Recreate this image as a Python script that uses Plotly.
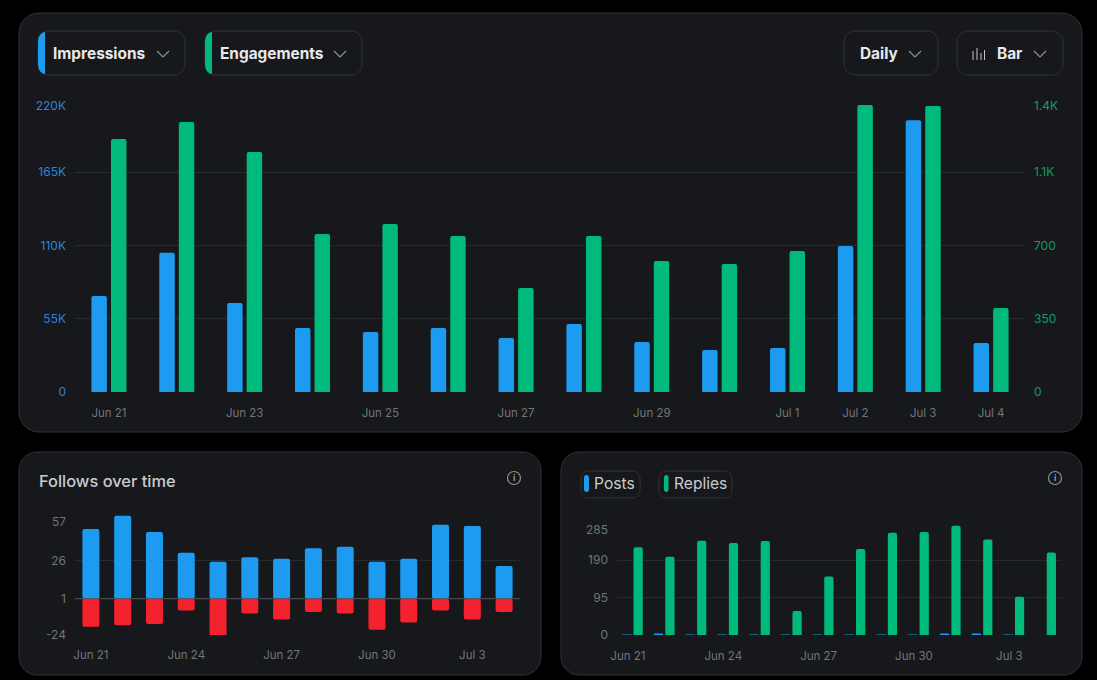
import plotly.graph_objects as go

W, H = 1097, 680

# ---------- data ----------
days = ["Jun 21", "Jun 22", "Jun 23", "Jun 24", "Jun 25", "Jun 26", "Jun 27",
        "Jun 28", "Jun 29", "Jun 30", "Jul 1", "Jul 2", "Jul 3", "Jul 4"]
impressions = [72000, 104500, 66800, 48000, 45000, 48000, 40500,
               51000, 37500, 31500, 33000, 109600, 204000, 36800]
engagements = [1209, 1290, 1147, 755, 803, 745, 497,
               745, 626, 612, 674, 1371, 1367, 401]
follows = [47, 56, 45, 31, 25, 28, 27, 34, 35, 25, 27, 50, 49, 22]
unfollows = [-19, -18, -17, -8, -25, -10, -14, -9, -10, -21, -16, -8, -14, -9]
posts = [1, 3, 1, 1, 1, 1, 1, 1, 1, 1, 3, 3, 1, 0]
replies = [222, 198, 239, 233, 238, 61, 148, 218, 259, 261, 277, 242, 97, 209]

main_ticks = ["Jun 21", "Jun 23", "Jun 25", "Jun 27", "Jun 29", "Jul 1", "Jul 2", "Jul 3", "Jul 4"]
small_ticks = ["Jun 21", "Jun 24", "Jun 27", "Jun 30", "Jul 3"]

imp_grid = [0, 55000, 110000, 165000, 220000]
imp_label_at = [0, 55000, 110000, 165000, 215000]
imp_labels = ["0", "55K", "110K", "165K", "220K"]
eng_label_at = [0, 350, 700, 1050, 1369]
eng_labels = ["0", "350", "700", "1.1K", "1.4K"]
fol_base = 0.5
fol_grid = [-24, fol_base, 26, 57]
fol_label_at = [-24, fol_base, 26, 52.5]
fol_labels = ["-24", "1", "26", "57"]
rep_grid = [0, 95, 190, 285]
rep_label_at = [0, 95, 190, 267]
rep_labels = ["0", "95", "190", "285"]

# ---------- styles ----------
BG = "#000000"
CARD = "#16181c"
BORDER = "#2f3336"
GRID = "#272a2e"
BLUE = "#1d9bf0"
GREEN = "#00ba7c"
RED = "#f4212e"
MUTED = "#71767b"
FONT = "Inter"


def px(x):
    return x / W


def py(y):
    return 1 - y / H


def rrect(x0, y0, x1, y1, r, fill, line, layer="below", lw=1):
    k = r * 0.45
    p = (f"M{px(x0+r)},{py(y0)} L{px(x1-r)},{py(y0)} "
         f"C{px(x1-k)},{py(y0)} {px(x1)},{py(y0+k)} {px(x1)},{py(y0+r)} "
         f"L{px(x1)},{py(y1-r)} "
         f"C{px(x1)},{py(y1-k)} {px(x1-k)},{py(y1)} {px(x1-r)},{py(y1)} "
         f"L{px(x0+r)},{py(y1)} "
         f"C{px(x0+k)},{py(y1)} {px(x0)},{py(y1-k)} {px(x0)},{py(y1-r)} "
         f"L{px(x0)},{py(y0+r)} "
         f"C{px(x0)},{py(y0+k)} {px(x0+k)},{py(y0)} {px(x0+r)},{py(y0)} Z")
    return dict(type="path", xref="paper", yref="paper", path=p, fillcolor=fill,
                line=dict(color=line, width=lw), layer=layer)


def chevron(cx, cy, color="#8b9096"):
    p = f"M{px(cx-6)},{py(cy-3)} L{px(cx)},{py(cy+3)} L{px(cx+6)},{py(cy-3)}"
    return dict(type="path", xref="paper", yref="paper", path=p,
                line=dict(color=color, width=1.2), layer="above")


def seg(x0, y0, x1, y1, color, width=1):
    return dict(type="line", xref="paper", yref="paper", x0=px(x0), x1=px(x1), y0=py(y0), y1=py(y1),
                line=dict(color=color, width=width), layer="above")


def accent(x0, x1, y0, y1, color):
    p = (f"M{px(x1)},{py(y0)} C{px(x0+1)},{py(y0+1)} {px(x0)},{py(y0+6)} {px(x0)},{py(y0+12)} "
         f"L{px(x0)},{py(y1-12)} C{px(x0)},{py(y1-6)} {px(x0+1)},{py(y1-1)} {px(x1)},{py(y1)} Z")
    return dict(type="path", xref="paper", yref="paper", path=p, fillcolor=color,
                line=dict(width=0), layer="above")


def text(x, y, s, size=15, color="#e7e9ea", weight=400, anchor="left"):
    return dict(xref="paper", yref="paper", x=px(x), y=py(y), text=s, showarrow=False,
                xanchor=anchor, yanchor="middle", xshift=0, borderpad=0,
                font=dict(family=FONT, size=size, color=color, weight=weight))


def info(cx, cy):
    return dict(type="circle", xref="paper", yref="paper", x0=px(cx-6.5), x1=px(cx+6.5),
                y0=py(cy+6.5), y1=py(cy-6.5), line=dict(color="#8b9096", width=1.2), layer="above")


shapes = [
    rrect(19, 13, 1082, 432, 20, CARD, BORDER),
    rrect(19, 452, 541, 675, 18, CARD, BORDER),
    rrect(561, 452, 1082, 675, 18, CARD, BORDER),
    rrect(38, 31, 185, 75, 11, CARD, BORDER),
    rrect(205, 31, 362, 75, 11, CARD, BORDER),
    rrect(844, 31, 938, 75, 11, CARD, BORDER),
    rrect(957, 31, 1063, 75, 11, CARD, BORDER),
    accent(38, 45, 32, 74, BLUE),
    accent(205, 212, 32, 74, GREEN),
    chevron(163, 54), chevron(340, 54), chevron(915, 54), chevron(1040, 54),
    seg(973, 51, 973, 60, "#c4c7ca"), seg(977, 48, 977, 60, "#c4c7ca"),
    seg(981, 53, 981, 60, "#c4c7ca"), seg(984.5, 50, 984.5, 60, "#c4c7ca"),
    rrect(581, 471, 640, 498, 7, CARD, BORDER),
    rrect(659, 471, 732, 498, 7, CARD, BORDER),
    rrect(584, 475, 589, 492, 2.4, BLUE, BLUE, layer="above", lw=0),
    rrect(664, 475, 668.5, 492, 2.2, GREEN, GREEN, layer="above", lw=0),
    info(514, 478), info(1055, 478),
    dict(type="line", xref="x2 domain", yref="y3", x0=0, x1=1, y0=fol_base, y1=fol_base,
         line=dict(color="#50545a", width=1), layer="above"),
]

annotations = [
    text(51.5, 54, "Impressions", 15.4, "#e7e9ea", 700),
    text(218.5, 54, "Engagements", 15.4, "#e7e9ea", 700),
    text(858.5, 54, "Daily", 15.4, "#e7e9ea", 700),
    text(995.5, 54, "Bar", 15.4, "#e7e9ea", 700),
    text(37.5, 481, "Follows over time", 16.4, "#c9cccf", 500),
    text(592.5, 483.5, "Posts", 15.6, "#c9cccf", 400),
    text(672.5, 483.5, "Replies", 15.6, "#c9cccf", 400),
    text(514, 478, "i", 9, "#a0a4a8", 600, "center"),
    text(1055, 478, "i", 9, "#a0a4a8", 600, "center"),
]

fig = go.Figure()
fig.add_bar(x=days, y=impressions, marker=dict(color=BLUE, cornerradius=2, line_width=0),
            width=0.228, offset=-0.258, xaxis="x", yaxis="y", name="Impressions")
fig.add_bar(x=days, y=engagements, marker=dict(color=GREEN, cornerradius=2, line_width=0),
            width=0.228, offset=0.03, xaxis="x", yaxis="y2", name="Engagements")
fig.add_bar(x=days, y=follows, base=fol_base, marker=dict(color=BLUE, cornerradius=2, line_width=0),
            width=0.535, xaxis="x2", yaxis="y3", name="Follows")
fig.add_bar(x=days, y=unfollows, base=fol_base, marker=dict(color=RED, cornerradius=2, line_width=0),
            width=0.535, xaxis="x2", yaxis="y3", name="Unfollows")
fig.add_bar(x=days, y=posts, marker=dict(color=BLUE, cornerradius=1, line_width=0),
            width=0.3, offset=-0.345, xaxis="x3", yaxis="y4", name="Posts")
fig.add_bar(x=days, y=replies, marker=dict(color=GREEN, cornerradius=2, line_width=0),
            width=0.29, offset=0.02, xaxis="x3", yaxis="y4", name="Replies")


def xaxis(x0, x1, anchor, ticks, shift=0, ticklen=10):
    return dict(domain=[px(x0), px(x1)], anchor=anchor, type="category", categoryorder="array",
                categoryarray=days, range=[-0.5, 13.5], tickmode="array", tickvals=ticks, ticktext=ticks,
                showgrid=False, zeroline=False, showline=False, ticks="outside", ticklen=ticklen,
                tickcolor="rgba(0,0,0,0)", automargin=False,
                tickfont=dict(family=FONT, size=11.5, color=MUTED), tickangle=0, ticklabelshift=shift,
                fixedrange=True)


def yaxis(y_top, y_bot, rng, at, labels, grid, color, side="left", overlay=None, anchor="x"):
    d = dict(domain=[py(y_bot), py(y_top)], anchor=anchor, range=rng, tickmode="array",
             tickvals=at, ticktext=labels, showgrid=False, zeroline=False, showline=False,
             ticks="", side=side, ticklabelstandoff=8, automargin=False,
             tickfont=dict(family=FONT, size=12, color=color), fixedrange=True)
    if grid is not None:
        d["minor"] = dict(tickmode="array", tickvals=grid, showgrid=True, gridcolor=GRID,
                          gridwidth=1, ticks="")
    if overlay:
        d["overlaying"] = overlay
    return d


fig.update_layout(
    width=W, height=H, margin=dict(l=0, r=0, t=0, b=0, pad=0, autoexpand=False), autosize=False,
    paper_bgcolor=BG, plot_bgcolor="rgba(0,0,0,0)", showlegend=False, barmode="overlay",
    font=dict(family=FONT), shapes=shapes, annotations=annotations,
    xaxis=xaxis(75, 1025, "y", main_ticks, ticklen=10),
    yaxis=yaxis(99, 392, [0, 220000], imp_label_at, imp_labels, imp_grid, "#2f84da"),
    yaxis2=yaxis(99, 392, [0, 1400], eng_label_at, eng_labels, None, "#149a66", side="right", overlay="y"),
    xaxis2=xaxis(75, 520, "y3", small_ticks, ticklen=9),
    yaxis3=yaxis(515, 635, [-24, 57], fol_label_at, fol_labels, fol_grid, MUTED, anchor="x2"),
    xaxis3=xaxis(617, 1062, "y4", small_ticks, shift=-5, ticklen=10),
    yaxis4=yaxis(522.5, 635, [0, 285], rep_label_at, rep_labels, rep_grid, MUTED, anchor="x3"),
)

fig.write_html(
    "out.html",
    config=dict(displayModeBar=False, responsive=False),
    post_script="document.body.style.margin='0';document.body.style.background='#000';"
                "document.documentElement.style.overflow='hidden';",
)
